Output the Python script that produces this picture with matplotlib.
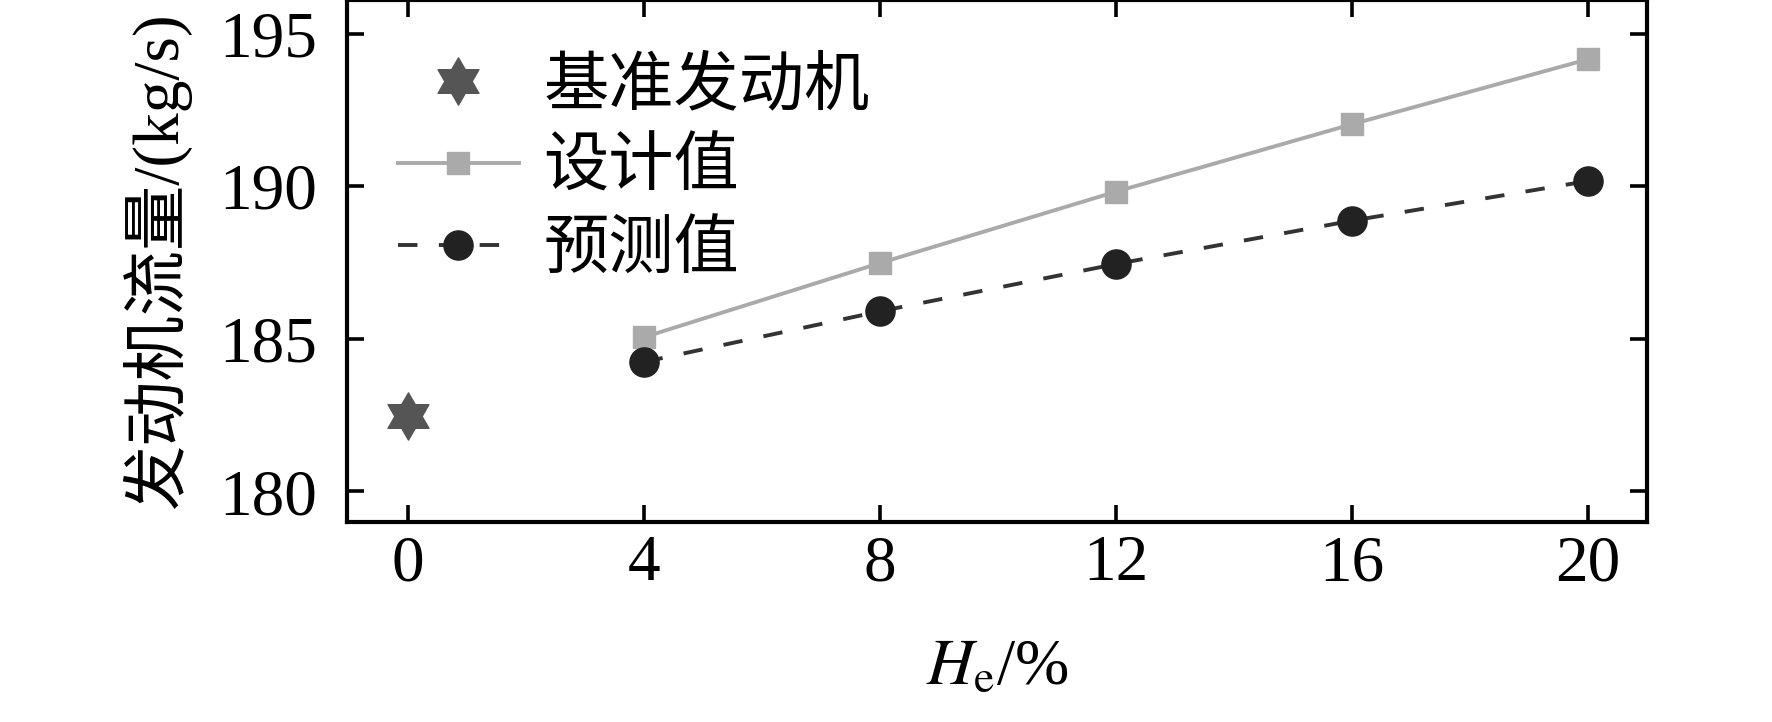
import numpy as np
import matplotlib
matplotlib.use("Agg")
import matplotlib.pyplot as plt
from matplotlib.path import Path

plt.rcParams['font.family'] = ['Liberation Serif', 'Noto Sans CJK SC']
plt.rcParams['mathtext.fontset'] = 'stix'
plt.rcParams['axes.unicode_minus'] = False

# data
base_x = [0]
base_y = [182.47]
he = [4, 8, 12, 16, 20]
design = [185.05, 187.48, 189.82, 192.03, 194.16]
predict = [184.24, 185.90, 187.45, 188.87, 190.17]
xticks = [0, 4, 8, 12, 16, 20]
yticks = [180, 185, 190, 195]

fs = 47
hexagram = Path.unit_regular_star(6, 1 / np.sqrt(3))

fig = plt.figure(figsize=(17.72, 7.22), dpi=100)
ax = fig.add_axes([0.196, 0.277, 0.7335, 0.723])

ax.plot(base_x, base_y, linestyle='none', marker=hexagram, ms=34, color='#555555',
        label='基准发动机')
ax.plot(he, design, '-', color='#aaaaaa', lw=2.8, marker='s', ms=16,
        label='设计值')
ax.plot(he, predict, linestyle=(0, (5.0, 5.5)), color='#333333', lw=2.8,
        marker='o', ms=21, mfc='#222222', mec='#222222', label='预测值')

ax.set_xlim(-1.02, 21.0)
ax.set_ylim(179, 196.1)
ax.set_xticks(xticks)
ax.set_yticks(yticks)
ax.tick_params(direction='in', length=12, width=2.6, labelsize=fs,
               top=True, right=True)
ax.tick_params(axis='x', pad=9)
ax.tick_params(axis='y', pad=22)
for s in ax.spines.values():
    s.set_linewidth(3.0)

ax.set_xlabel('$H_\\mathrm{e}$/%', fontsize=fs, labelpad=32)
ax.set_ylabel('发动机流量/(kg/s)', fontsize=fs, labelpad=20)

ax.legend(loc='upper left', bbox_to_anchor=(0.039, 0.89), frameon=False,
          fontsize=fs, borderpad=0, borderaxespad=0, handlelength=1.85,
          handletextpad=0.38, labelspacing=0.33)

fig.savefig('out.png', dpi=100)
